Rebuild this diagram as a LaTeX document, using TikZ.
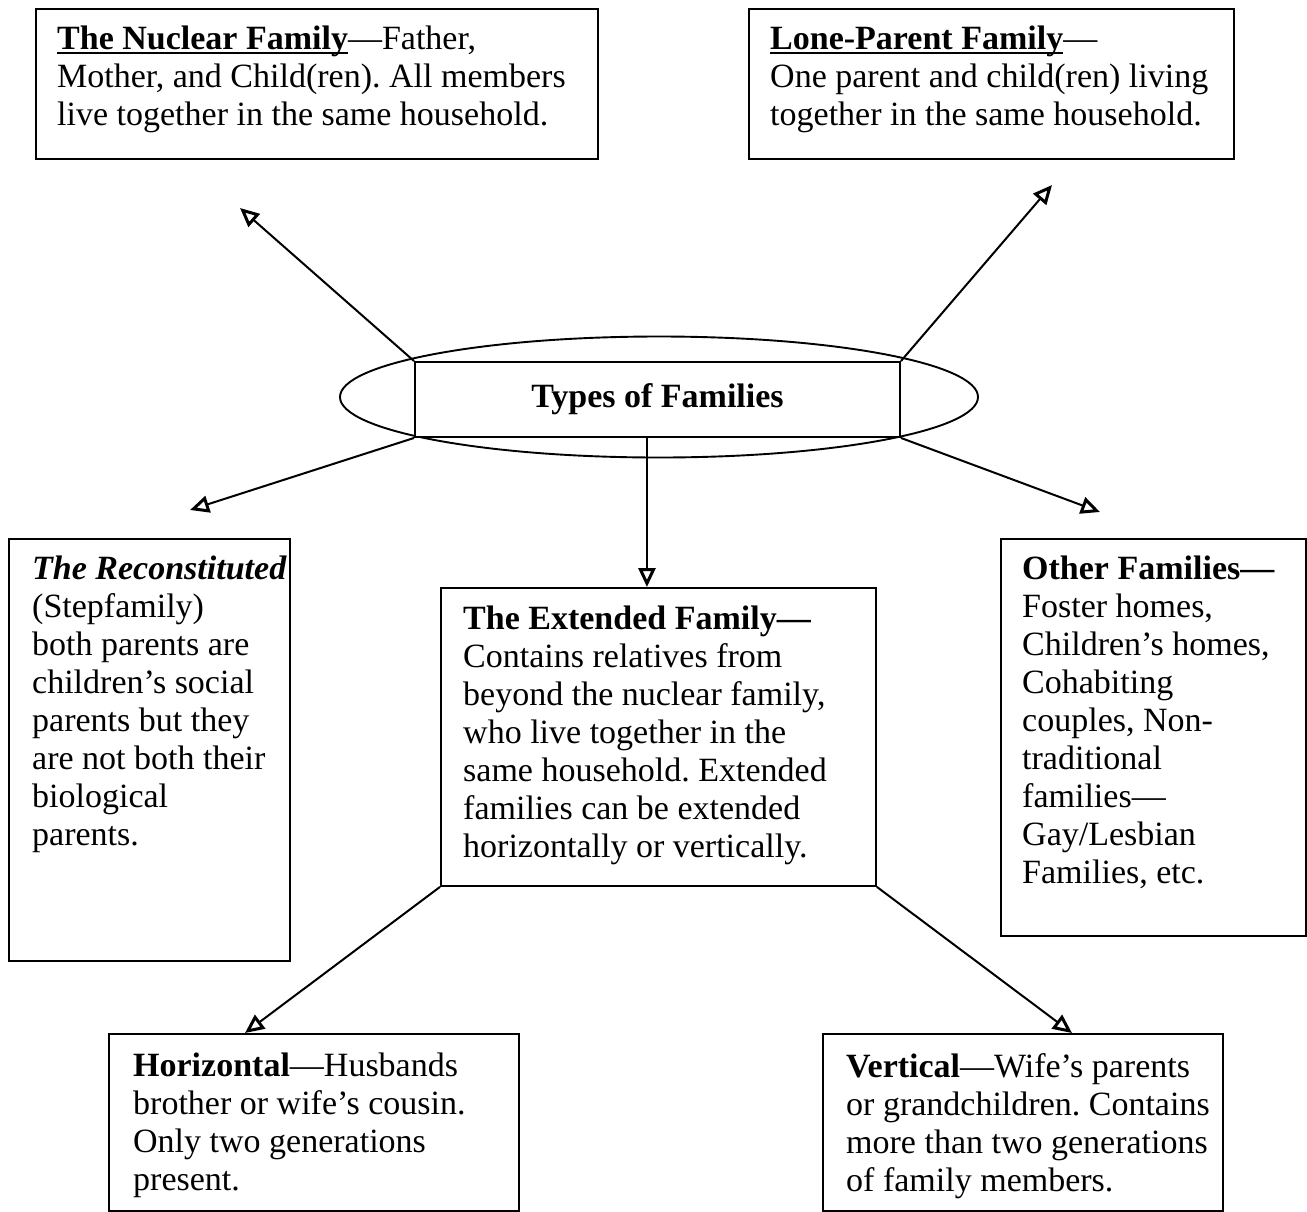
\documentclass[tikz,border=0pt]{standalone}
\usepackage{fontspec}
\setmainfont{Liberation Serif}
\newcommand{\myul}[1]{\setbox0\hbox{#1}\rlap{\rule[-4pt]{\wd0}{1.6pt}}\box0}
\usetikzlibrary{shapes.geometric,arrows.meta}
\begin{document}
\frenchspacing
\begin{tikzpicture}[x=1pt,y=-1pt,
  box/.style={draw=black,line width=1.9pt,rectangle,inner sep=0pt,anchor=north west},
  txt/.style={inner sep=0pt,anchor=north west,align=left,font=\fontsize{34}{38}\selectfont},
  arr/.style={line width=2pt,-{Triangle[open,length=19pt,width=17pt,line width=3pt]}}]
\useasboundingbox[fill=white] (0,0) rectangle (1307,1211);
% boxes
\node[box,minimum width=562pt,minimum height=150pt] (nuc) at (35,8) {};
\node[box,minimum width=485pt,minimum height=150pt] (lone) at (748,8) {};
\node[box,minimum width=281pt,minimum height=422pt] (rec) at (8,538) {};
\node[box,minimum width=435pt,minimum height=298pt] (ext) at (440,587) {};
\node[box,minimum width=305pt,minimum height=397pt] (oth) at (1000,538) {};
\node[box,minimum width=410pt,minimum height=177pt] (hor) at (108,1033) {};
\node[box,minimum width=400pt,minimum height=177pt] (ver) at (822,1033) {};
% centre
\node[draw=black,line width=1.9pt,ellipse,minimum width=638pt,minimum height=121pt,inner sep=0pt] (ell) at (659,397) {};
\node[draw=black,line width=1.9pt,rectangle,minimum width=485pt,minimum height=75pt,inner sep=0pt,fill=white,
  font=\fontsize{34}{38}\selectfont\bfseries] (tb) at (657.5,399.5) {Types of Families};
% texts
\node[txt] (nuct) at (57,26) {\myul{\textbf{The Nuclear Family}}---Father,\\Mother, and Child(ren). All members\\live together in the same household.};
\node[txt] (lonet) at (770,26) {\myul{\textbf{Lone-Parent Family}}---\\One parent and child(ren) living\\together in the same household.};
\node[txt] (rect) at (32,556) {\textbf{\textit{The Reconstituted}}\\(Stepfamily)\\both parents are\\children’s social\\parents but they\\are not both their\\biological\\parents.};
\node[txt] (extt) at (463,606) {\textbf{The Extended Family---}\\Contains relatives from\\beyond the nuclear family,\\who live together in the\\same household. Extended\\families can be extended\\horizontally or vertically.};
\node[txt] (otht) at (1022,556) {\textbf{Other Families---}\\Foster homes,\\Children’s homes,\\Cohabiting\\couples, Non-\\traditional\\families---\\Gay/Lesbian\\Families, etc.};
\node[txt] (hort) at (133,1053) {\textbf{Horizontal}---Husbands\\brother or wife’s cousin.\\Only two generations\\present.};
\node[txt] (vert) at (846,1053) {\textbf{Vertical}---Wife’s parents\\or grandchildren. Contains\\more than two generations\\of family members.};
% connectors
\coordinate (a1) at (240,208);
\coordinate (a2) at (1052,185);
\coordinate (a3) at (190,510);
\coordinate (a4) at (1100,512);
\coordinate (e1) at ([xshift=-11.5pt]ext.north);
\coordinate (h1) at ([xshift=137pt]hor.north west);
\coordinate (v1) at ([xshift=250pt]ver.north west);
\draw[arr] (tb.north west) -- (a1);
\draw[arr] (tb.north east) -- (a2);
\draw[arr] (tb.south west) -- (a3);
\draw[arr] (tb.south east) -- (a4);
\draw[arr] (tb.south -| e1) -- (e1);
\draw[arr] (ext.south west) -- (h1);
\draw[arr] (ext.south east) -- (v1);
\end{tikzpicture}
\end{document}
